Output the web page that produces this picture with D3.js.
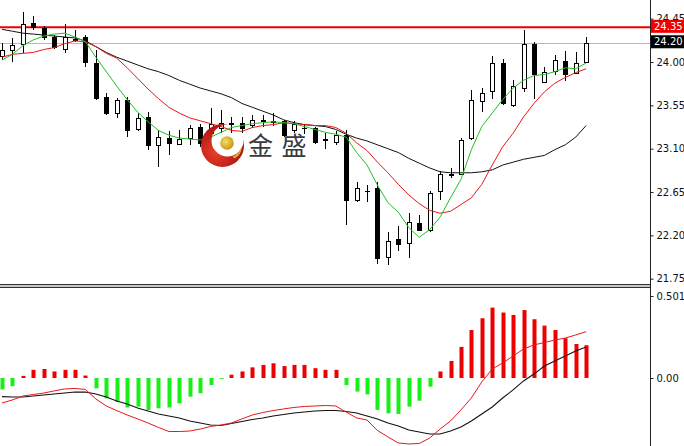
<!DOCTYPE html>
<html><head><meta charset="utf-8">
<script src="https://cdn.jsdelivr.net/npm/d3@7"></script>
<style>body{margin:0;background:#fff;overflow:hidden}svg{display:block}</style>
</head><body><svg id="c" width="684" height="446"></svg>
<script>
// ---------- data ----------
const opens =[24.06,24.12,24.19,24.41,24.35,24.26,24.14,24.23,24.26,23.99,23.64,23.47,23.61,23.30,23.43,23.14,23.21,23.15,23.21,23.33,23.26,23.32,23.36,23.37,23.35,23.39,23.38,23.39,23.29,23.31,23.31,23.19,23.17,23.24,22.57,22.66,22.69,21.98,22.16,22.12,22.33,22.26,22.66,22.83,22.84,23.21,23.60,23.70,23.99,23.55,23.73,24.19,23.79,23.91,24.01,23.89,24.00];
const highs =[24.20,24.25,24.52,24.48,24.37,24.28,24.40,24.33,24.28,24.12,23.68,23.63,23.64,23.47,23.48,23.29,23.28,23.29,23.35,23.36,23.52,23.50,23.43,23.43,23.45,23.45,23.47,23.40,23.39,23.36,23.33,23.26,23.28,23.29,22.75,22.72,22.75,22.23,22.30,22.43,22.41,22.66,22.87,22.90,23.21,23.71,23.73,24.06,24.03,23.81,24.33,24.21,23.95,24.07,24.11,24.10,24.26];
const lows  =[24.02,24.00,24.09,24.33,24.23,24.14,24.09,24.21,23.95,23.61,23.45,23.42,23.22,23.28,23.09,22.91,23.03,23.14,23.14,23.12,23.22,23.26,23.26,23.26,23.31,23.33,23.34,23.22,23.26,23.25,23.15,23.10,23.14,22.31,22.55,22.55,21.90,21.89,22.04,21.97,22.25,22.24,22.57,22.80,22.83,23.19,23.48,23.62,23.55,23.53,23.69,23.62,23.78,23.87,23.80,23.88,23.99];
const closes=[24.12,24.18,24.39,24.36,24.26,24.16,24.26,24.24,24.00,23.63,23.47,23.61,23.29,23.42,23.14,23.22,23.16,23.20,23.31,23.16,23.36,23.37,23.37,23.32,23.40,23.40,23.39,23.24,23.36,23.31,23.17,23.20,23.24,22.57,22.69,22.66,21.97,22.14,22.11,22.34,22.26,22.64,22.84,22.84,23.19,23.61,23.68,23.99,23.57,23.75,24.19,23.88,23.90,24.02,23.88,23.99,24.20];

const maFast=[24.02,24.08,24.17,24.23,24.27,24.29,24.30,24.26,24.21,24.05,23.90,23.75,23.61,23.48,23.38,23.29,23.24,23.21,23.20,23.19,23.22,23.27,23.32,23.34,23.36,23.37,23.38,23.37,23.36,23.33,23.30,23.27,23.25,23.22,23.06,22.93,22.72,22.54,22.44,22.28,22.18,22.26,22.39,22.59,22.78,23.09,23.33,23.47,23.61,23.73,23.81,23.86,23.87,23.90,23.94,23.93,23.99];
const maMid =[24.05,24.08,24.09,24.10,24.13,24.15,24.19,24.22,24.21,24.16,24.09,24.04,23.94,23.83,23.72,23.62,23.53,23.47,23.42,23.39,23.36,23.33,23.29,23.28,23.32,23.34,23.35,23.37,23.36,23.35,23.34,23.34,23.32,23.26,23.16,23.08,22.96,22.85,22.73,22.62,22.53,22.46,22.43,22.45,22.52,22.59,22.73,22.93,23.12,23.26,23.43,23.57,23.69,23.78,23.84,23.89,23.93];
const maSlow=[24.34,24.32,24.30,24.29,24.28,24.27,24.26,24.25,24.22,24.16,24.10,24.05,24.01,23.97,23.93,23.90,23.86,23.81,23.77,23.73,23.70,23.67,23.63,23.57,23.53,23.49,23.45,23.40,23.37,23.35,23.34,23.33,23.30,23.25,23.21,23.18,23.14,23.10,23.06,23.00,22.95,22.90,22.86,22.85,22.85,22.85,22.86,22.88,22.93,22.96,22.99,23.01,23.03,23.09,23.14,23.22,23.34];

const macdHist=[-0.07,-0.05,0.013,0.05,0.055,0.04,0.05,0.05,0.015,-0.063,-0.124,-0.145,-0.18,-0.175,-0.195,-0.185,-0.18,-0.155,-0.114,-0.093,-0.043,-0.005,0.02,0.04,0.065,0.08,0.09,0.073,0.08,0.08,0.06,0.05,0.05,-0.043,-0.083,-0.1,-0.195,-0.216,-0.22,-0.175,-0.139,-0.053,0.04,0.104,0.19,0.293,0.365,0.43,0.40,0.385,0.415,0.359,0.32,0.293,0.243,0.208,0.20];
const macdMain=[-0.114,-0.116,-0.116,-0.110,-0.104,-0.098,-0.092,-0.086,-0.086,-0.098,-0.116,-0.141,-0.159,-0.183,-0.202,-0.220,-0.232,-0.244,-0.263,-0.275,-0.287,-0.290,-0.278,-0.266,-0.254,-0.244,-0.232,-0.223,-0.214,-0.208,-0.202,-0.199,-0.199,-0.205,-0.214,-0.232,-0.250,-0.275,-0.293,-0.318,-0.330,-0.342,-0.342,-0.324,-0.299,-0.263,-0.220,-0.177,-0.122,-0.073,-0.018,0.024,0.073,0.104,0.134,0.165,0.189];
const macdSignal=[-0.153,-0.134,-0.110,-0.101,-0.092,-0.079,-0.067,-0.064,-0.070,-0.128,-0.171,-0.199,-0.226,-0.250,-0.275,-0.302,-0.327,-0.327,-0.324,-0.312,-0.296,-0.287,-0.275,-0.250,-0.226,-0.211,-0.199,-0.189,-0.180,-0.174,-0.171,-0.168,-0.171,-0.208,-0.244,-0.257,-0.321,-0.360,-0.397,-0.403,-0.400,-0.367,-0.312,-0.263,-0.195,-0.122,-0.024,0.055,0.092,0.134,0.177,0.202,0.217,0.232,0.244,0.263,0.283];

const priceTicks=[24.45,24.00,23.55,23.10,22.65,22.20,21.75];
const macdTicks=[0.501,0.00];
const levelPrice=24.35, lastPrice=24.20;

// ---------- layout ----------
const svg=d3.select("#c");
const axisX=650.5;
const n=closes.length;
const x=d3.scaleLinear().domain([0,n-1]).range([2,586.1]);
const y=d3.scaleLinear().domain([21.75,24.45]).range([278.7,18.7]);
const ym=d3.scaleLinear().domain([0,0.501]).range([378,296]);
const font="'DejaVu Sans', Tahoma, sans-serif";

const defs=svg.append("defs");
defs.append("clipPath").attr("id","cm").append("rect").attr("x",0).attr("y",0).attr("width",650).attr("height",284);
defs.append("clipPath").attr("id","cs").append("rect").attr("x",0).attr("y",288).attr("width",650).attr("height",158);

const main=svg.append("g").attr("clip-path","url(#cm)");
// level lines
main.append("line").attr("x1",0).attr("x2",650).attr("y1",Math.round(y(lastPrice))+0.5).attr("y2",Math.round(y(lastPrice))+0.5)
  .attr("stroke","#b8b8b8").attr("stroke-width",1);
main.append("line").attr("x1",0).attr("x2",650).attr("y1",y(levelPrice)-1).attr("y2",y(levelPrice)-1)
  .attr("stroke","#ee0000").attr("stroke-width",2);

// candles
const cg=main.append("g");
d3.range(n).forEach(i=>{
  const cx=Math.round(x(i));
  const o=opens[i],c=closes[i];
  cg.append("line").attr("x1",cx+0.5).attr("x2",cx+0.5)
    .attr("y1",Math.round(y(highs[i]))).attr("y2",Math.round(y(lows[i])))
    .attr("stroke","#000").attr("stroke-width",1);
  const t=Math.round(y(Math.max(o,c)))+0.5, b=Math.round(y(Math.min(o,c)))+0.5;
  if(b-t<1){
    cg.append("line").attr("x1",cx-2).attr("x2",cx+3).attr("y1",t).attr("y2",t).attr("stroke","#000");
  } else {
    cg.append("rect").attr("x",cx-1.5).attr("width",4).attr("y",t).attr("height",b-t)
      .attr("fill",c>=o?"#fff":"#000").attr("stroke","#000").attr("stroke-width",1);
  }
});

const line=d3.line().x((d,i)=>x(i)).y(d=>y(d));
main.append("path").datum(maSlow).attr("d",line).attr("fill","none").attr("stroke","#111").attr("stroke-width",1);
main.append("path").datum(maMid).attr("d",line).attr("fill","none").attr("stroke","#e81818").attr("stroke-width",1);
main.append("path").datum(maFast).attr("d",line).attr("fill","none").attr("stroke","#22c022").attr("stroke-width",1);

// watermark logo
const lg=main.append("g").attr("transform","translate(222.5,145.5)");
const mk=defs.append("mask").attr("id","cres");
mk.append("rect").attr("x",-30).attr("y",-30).attr("width",60).attr("height",60).attr("fill","#fff");
mk.append("circle").attr("cx",5).attr("cy",-5).attr("r",16).attr("fill","#000");
const gr=defs.append("radialGradient").attr("id","rg").attr("cx","35%").attr("cy","65%").attr("r","70%");
gr.append("stop").attr("offset","0%").attr("stop-color","#e8402a");
gr.append("stop").attr("offset","100%").attr("stop-color","#a80c10");
lg.append("circle").attr("r",21.5).attr("fill","url(#rg)").attr("mask","url(#cres)");
const gg=defs.append("radialGradient").attr("id","gg").attr("cx","40%").attr("cy","40%").attr("r","60%");
gg.append("stop").attr("offset","0%").attr("stop-color","#f6dc6a");
gg.append("stop").attr("offset","100%").attr("stop-color","#c89a18");
lg.append("circle").attr("cx",4.5).attr("cy",-2.5).attr("r",6.8).attr("fill","url(#gg)");
lg.append("path").attr("d","M10,11 Q18,8 19,0 Q20,9 12,13 Z").attr("fill","#d9b040");
main.append("text").attr("x",260.5).attr("y",143.5).attr("text-anchor","middle").attr("dominant-baseline","central")
  .attr("font-family","'Noto Sans CJK SC'").attr("font-size",25).attr("fill","#3a3a3a").text("金");
main.append("text").attr("x",294).attr("y",143.5).attr("text-anchor","middle").attr("dominant-baseline","central")
  .attr("font-family","'Noto Sans CJK SC'").attr("font-size",25).attr("fill","#3a3a3a").text("盛");

// ---------- MACD subwindow ----------
const sub=svg.append("g").attr("clip-path","url(#cs)");
sub.selectAll("rect.h").data(macdHist).join("rect").attr("class","h")
  .attr("x",(d,i)=>Math.round(x(i))-1.5).attr("width",4)
  .attr("y",d=>Math.min(ym(d),ym(0))).attr("height",d=>Math.abs(ym(d)-ym(0)))
  .attr("fill",d=>d>=0?"#ee0000":"#18ee18");
const mline=d3.line().x((d,i)=>x(i)).y(d=>ym(d));
sub.append("path").datum(macdMain).attr("d",mline).attr("fill","none").attr("stroke","#111").attr("stroke-width",1.1);
sub.append("path").datum(macdSignal).attr("d",mline).attr("fill","none").attr("stroke","#e81818").attr("stroke-width",1);

// separator
svg.append("rect").attr("x",0).attr("y",284).attr("width",650).attr("height",3).attr("fill","#c8c8c8");
svg.append("line").attr("x1",0).attr("x2",650).attr("y1",284.5).attr("y2",284.5).attr("stroke","#333");
svg.append("line").attr("x1",0).attr("x2",650).attr("y1",287.5).attr("y2",287.5).attr("stroke","#333");

// ---------- axes ----------
svg.append("line").attr("x1",axisX).attr("x2",axisX).attr("y1",0).attr("y2",446).attr("stroke","#222");
const ax=svg.append("g").attr("transform",`translate(${axisX},0)`)
  .call(d3.axisRight(y).tickValues(priceTicks).tickSize(3).tickPadding(3).tickFormat(d3.format(".2f")));
const ax2=svg.append("g").attr("transform",`translate(${axisX},0)`)
  .call(d3.axisRight(ym).tickValues(macdTicks).tickSize(3).tickPadding(3).tickFormat(d=>d===0?"0.00":"0.501"));
[ax,ax2].forEach(a=>{
  a.select(".domain").remove();
  a.selectAll("text").attr("font-family",font).attr("font-size",10).attr("fill","#111");
  a.selectAll("line").attr("stroke","#222");
});

// price labels
function tag(v,bg,dy){
  const g=svg.append("g");
  const yy=y(v)+dy;
  g.append("rect").attr("x",651).attr("y",yy-6.5).attr("width",33).attr("height",13).attr("fill",bg);
  g.append("text").attr("x",654).attr("y",yy).attr("dominant-baseline","central")
    .attr("font-family",font).attr("font-size",10).attr("fill","#fff").text(v.toFixed(2));
}
tag(levelPrice,"#ee0000",-2);
tag(lastPrice,"#000",-1);
</script></body></html>
